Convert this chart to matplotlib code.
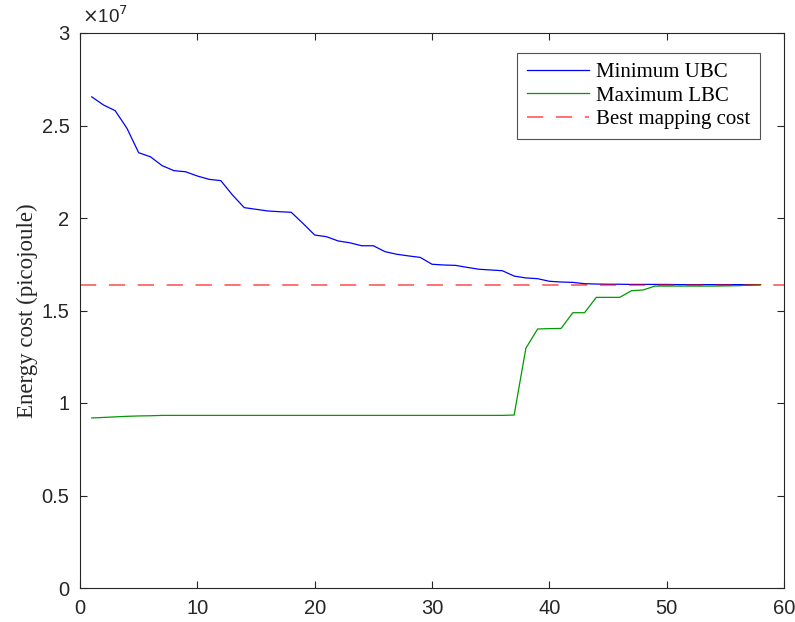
import matplotlib
matplotlib.use("Agg")
import matplotlib.pyplot as plt
from matplotlib.ticker import FuncFormatter

# Iteration index
iterations = list(range(1, 59))

# Minimum upper-bound cost per iteration (picojoule)
min_ubc = [
    2.655e7, 2.611e7, 2.580e7, 2.485e7, 2.353e7, 2.331e7, 2.283e7, 2.256e7,
    2.250e7, 2.227e7, 2.209e7, 2.202e7, 2.124e7, 2.056e7, 2.047e7, 2.038e7,
    2.034e7, 2.031e7, 1.971e7, 1.908e7, 1.899e7, 1.876e7, 1.866e7, 1.850e7,
    1.850e7, 1.818e7, 1.804e7, 1.795e7, 1.787e7, 1.750e7, 1.746e7, 1.744e7,
    1.733e7, 1.723e7, 1.719e7, 1.715e7, 1.686e7, 1.676e7, 1.672e7, 1.658e7,
    1.654e7, 1.652e7, 1.645e7, 1.643e7, 1.642e7, 1.642e7, 1.641e7, 1.641e7,
    1.641e7, 1.641e7, 1.640e7, 1.640e7, 1.640e7, 1.640e7, 1.640e7, 1.640e7,
    1.640e7, 1.640e7,
]

# Maximum lower-bound cost per iteration (picojoule)
max_lbc = [
    0.919e7, 0.922e7, 0.925e7, 0.928e7, 0.930e7, 0.931e7, 0.933e7, 0.933e7,
    0.933e7, 0.933e7, 0.933e7, 0.933e7, 0.933e7, 0.933e7, 0.933e7, 0.933e7,
    0.933e7, 0.933e7, 0.933e7, 0.933e7, 0.933e7, 0.933e7, 0.933e7, 0.933e7,
    0.933e7, 0.933e7, 0.933e7, 0.933e7, 0.933e7, 0.933e7, 0.933e7, 0.933e7,
    0.933e7, 0.933e7, 0.933e7, 0.933e7, 0.935e7, 1.296e7, 1.400e7, 1.402e7,
    1.403e7, 1.488e7, 1.488e7, 1.571e7, 1.571e7, 1.571e7, 1.607e7, 1.611e7,
    1.632e7, 1.632e7, 1.632e7, 1.632e7, 1.632e7, 1.632e7, 1.633e7, 1.634e7,
    1.637e7, 1.640e7,
]

# Cost of the best mapping found
best_cost = 1.64e7

x_ticks = [0, 10, 20, 30, 40, 50, 60]
y_ticks = [0, 0.5e7, 1.0e7, 1.5e7, 2.0e7, 2.5e7, 3.0e7]

series_labels = ["Minimum UBC", "Maximum LBC", "Best mapping cost"]
y_label = "Energy cost (picojoule)"

sans = ["Liberation Sans", "DejaVu Sans"]
serif = ["Liberation Serif", "DejaVu Serif"]
axis_grey = (0.15, 0.15, 0.15)

fig = plt.figure(figsize=(7.95, 6.22), dpi=100)
ax = fig.add_axes([80 / 795, 34 / 622, 704 / 795, 555 / 622])

ax.plot(iterations, min_ubc, color=(0, 0, 1), lw=0.9, label=series_labels[0])
ax.plot(iterations, max_lbc, color=(0, 0.6, 0), lw=0.9, label=series_labels[1])
ax.axhline(best_cost, color=(1, 0, 0), alpha=0.6, lw=1.3,
           dashes=(9, 7), label=series_labels[2])

ax.set_xlim(0, 60)
ax.set_ylim(0, 3e7)
ax.set_xticks(x_ticks)
ax.set_yticks(y_ticks)
ax.yaxis.set_major_formatter(FuncFormatter(lambda v, p: f"{v / 1e7:g}"))

ax.tick_params(direction="in", length=5, width=0.8, color=axis_grey,
               labelcolor=axis_grey, labelsize=14.5, top=True, right=True)
ax.tick_params(axis="x", pad=8)
ax.tick_params(axis="y", pad=7.5)
for lab in ax.get_xticklabels() + ax.get_yticklabels():
    lab.set_family(sans)
for sp in ax.spines.values():
    sp.set_color(axis_grey)
    sp.set_linewidth(0.8)

ax.set_ylabel(y_label, fontsize=16.5, family=serif, color=axis_grey, labelpad=3)

ax.text(0.003, 1.01, r"$\times$10$^{7}$", transform=ax.transAxes,
        ha="left", va="bottom", fontsize=13.5, family=sans, color=axis_grey)

leg = ax.legend(loc="upper right", bbox_to_anchor=(0.966, 0.964),
                prop={"family": serif, "size": 15}, frameon=True,
                fancybox=False, handlelength=3.0, handletextpad=0.35,
                labelspacing=0.2, borderpad=0.45, borderaxespad=0.0)
leg.get_frame().set_edgecolor(axis_grey)
leg.get_frame().set_linewidth(0.8)

fig.savefig("out.png", dpi=100, facecolor="white")
